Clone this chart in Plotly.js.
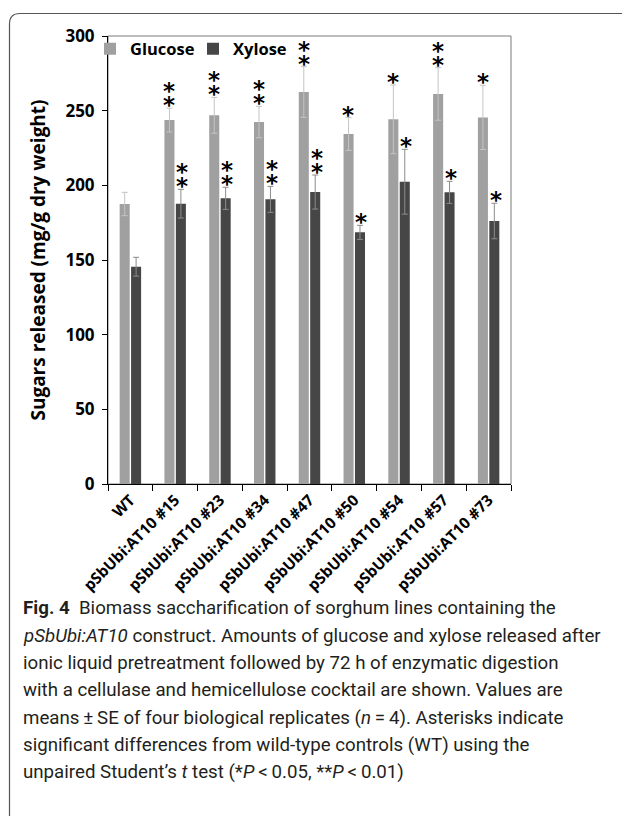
<!DOCTYPE html>
<html><head><meta charset="utf-8">
<script src="https://cdn.plot.ly/plotly-3.0.1.min.js"></script>
<style>html,body{margin:0;padding:0;background:#fff}#chart{width:622px;height:827px}</style>
</head><body><div id="chart"></div>
<script>
const categories = ['WT','pSbUbi:AT10 #15','pSbUbi:AT10 #23','pSbUbi:AT10 #34','pSbUbi:AT10 #47','pSbUbi:AT10 #50','pSbUbi:AT10 #54','pSbUbi:AT10 #57','pSbUbi:AT10 #73'];
const glucose = [187.5, 243.7, 246.9, 242.4, 262.5, 234.4, 244.2, 261.2, 245.5];
const glucoseErr = [7.8, 8.0, 12.0, 10.5, 17.0, 11.0, 23.0, 17.6, 21.5];
const xylose = [145.5, 187.7, 191.3, 190.6, 195.5, 168.5, 202.4, 195.3, 176.1];
const xyloseErr = [6.3, 9.6, 7.4, 8.7, 11.4, 4.7, 21.7, 7.4, 11.9];
const glucoseStars = [0, 2, 2, 2, 2, 1, 1, 2, 1];
const xyloseStars = [0, 2, 2, 2, 2, 1, 1, 1, 1];
const yTicks = [0, 50, 100, 150, 200, 250, 300];
const captionLines = [
  '<b>Fig. 4</b>  Biomass saccharification of sorghum lines containing the',
  '<i>pSbUbi:AT10</i> construct. Amounts of glucose and xylose released after',
  'ionic liquid pretreatment followed by 72 h of enzymatic digestion',
  'with a cellulase and hemicellulose cocktail are shown. Values are',
  'means\u2009\u00b1\u2009SE of four biological replicates (<i>n</i>\u2009=\u20094). Asterisks indicate',
  'significant differences from wild-type controls (WT) using the',
  'unpaired Student\u2019s <i>t</i> test (*<i>P</i>\u2009&lt;\u20090.05, **<i>P</i>\u2009&lt;\u20090.01)'
];

// pixel geometry of the plot area
const L = 108, T = 36, W = 403, H = 448;
const px = x => (x - L) / W;
const py = y => (T + H - y) / H;

const chartFont = {family: 'Open Sans, sans-serif', color: '#000', weight: 'bold'};

const traces = [
  {type: 'bar', name: 'Glucose', x: categories, y: glucose,
   marker: {color: '#a0a0a0'},
   error_y: {type: 'data', array: glucoseErr, visible: true, color: '#c4c4c4', thickness: 1, width: 3}},
  {type: 'bar', name: 'Xylose', x: categories, y: xylose,
   marker: {color: '#464646'},
   error_y: {type: 'data', array: xyloseErr, visible: true, color: '#8c8c8c', thickness: 1, width: 3}}
];

const annotations = [];
function addStars(vals, errs, counts, shift) {
  counts.forEach((n, i) => {
    for (let k = 0; k < n; k++) {
      annotations.push({x: categories[i], y: vals[i] + errs[i], xref: 'x', yref: 'y',
        text: '*', showarrow: false, xshift: shift, yanchor: 'bottom', yshift: -12 + 14 * k,
        font: {family: 'DejaVu Sans', size: 23, color: '#000', weight: 'bold'}});
    }
  });
}
addStars(glucose, glucoseErr, glucoseStars, -6);
addStars(xylose, xyloseErr, xyloseStars, 7);

const capY = [608, 636, 663, 690, 718, 745, 772];
captionLines.forEach((t, i) => {
  annotations.push({x: px(21), y: py(capY[i]), xref: 'paper', yref: 'paper', xanchor: 'left', yanchor: 'middle',
    text: t, showarrow: false, align: 'left',
    font: {family: 'Roboto, sans-serif', size: 18.7, color: '#231f20'}});
});

const shapes = [
  {type: 'rect', xref: 'paper', yref: 'paper', x0: 0, x1: 1, y0: 0, y1: 1, line: {color: '#7a7a7a', width: 1}, layer: 'below'},
  {type: 'path', xref: 'paper', yref: 'paper',
   path: `M ${px(9.5)},${py(816)} L ${px(9.5)},${py(24)} Q ${px(9.5)},${py(13.5)} ${px(20)},${py(13.5)} L ${px(630)},${py(13.5)}`,
   line: {color: '#555', width: 1.2}}
];

const layout = {
  width: 622, height: 827,
  margin: {l: L, r: 622 - L - W, t: T, b: 827 - T - H, pad: 0},
  paper_bgcolor: '#fff', plot_bgcolor: '#fff',
  barmode: 'group', bargap: 0.49, bargroupgap: 0.12,
  showlegend: true,
  legend: {orientation: 'h', x: px(90), y: py(49), xanchor: 'left', yanchor: 'middle',
    bgcolor: 'rgba(0,0,0,0)', font: Object.assign({size: 16.5}, chartFont),
    entrywidth: 58, entrywidthmode: 'pixels', itemclick: false},
  xaxis: {type: 'category', showline: true, linecolor: '#000', linewidth: 1,
    ticks: 'outside', tickson: 'boundaries', ticklen: 6, tickcolor: '#000',
    tickangle: -45, tickfont: Object.assign({size: 15.5}, chartFont), showgrid: false, zeroline: false},
  yaxis: {range: [0, 300], tickvals: yTicks, showline: true, linecolor: '#000', linewidth: 1,
    ticks: 'outside', ticklen: 5, tickcolor: '#000', showgrid: false, zeroline: false,
    ticklabelstandoff: 4,
    tickfont: Object.assign({size: 17}, chartFont),
    title: {text: 'Sugars released (mg/g dry weight)', standoff: 14, font: Object.assign({size: 19}, chartFont)}},
  annotations: annotations,
  shapes: shapes
};

Plotly.newPlot('chart', traces, layout, {displayModeBar: false, staticPlot: true});
</script></body></html>
